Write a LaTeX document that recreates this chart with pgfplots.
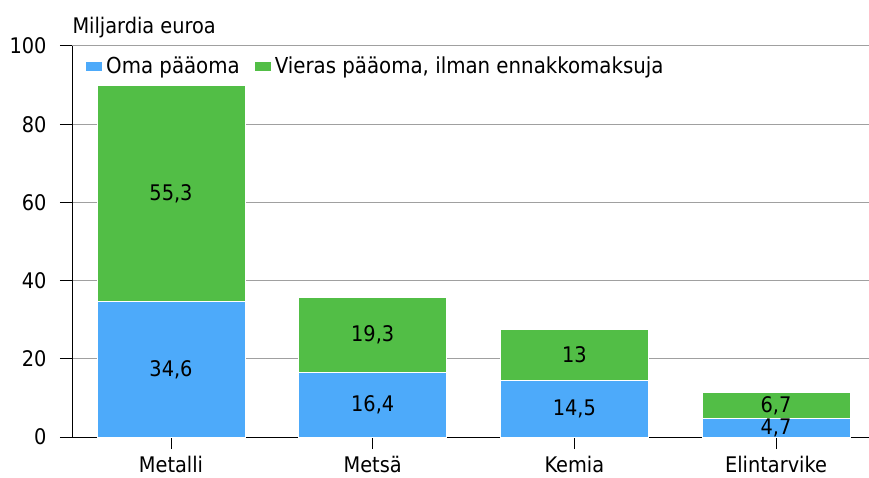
\documentclass[border=0pt]{standalone}
\usepackage{pgfplots}
\pgfplotsset{compat=1.18}
\usepackage{fontspec}
\setmainfont{DejaVu Sans Condensed}
\definecolor{omablue}{RGB}{77,170,250}
\definecolor{vierasgreen}{RGB}{82,190,70}
\definecolor{gridgray}{RGB}{160,160,160}
\newcommand{\chartfont}{\fontsize{21.5}{25}\selectfont}
\begin{document}
\begin{tikzpicture}
\begin{axis}[
  scale only axis,
  width=797pt, height=391pt,
  clip=false,
  ybar stacked, bar width=148pt,
  xmin=-0.491, xmax=3.461,
  ymin=0, ymax=100,
  ytick={0,20,...,100},
  xtick=data,
  xticklabels={Metalli,Metsä,Kemia,Elintarvike},
  axis x line*=bottom, axis y line*=left,
  ymajorgrids, grid style={gridgray, line width=1pt},
  tick align=outside,
  major tick length=12pt,
  tick style={black, line width=1pt},
  axis line style={black, line width=1pt},
  font=\chartfont,
  yticklabel style={xshift=-10pt},
  xticklabel style={yshift=-4pt},
  point meta=rawy,
  nodes near coords,
  nodes near coords style={anchor=center, font=\chartfont},
  legend style={draw=none, fill=none, at={(0,1)}, anchor=north west,
    xshift=11pt, yshift=-7pt, legend columns=2,
    font=\fontsize{22}{25}\selectfont,
    /tikz/every even column/.append style={column sep=11pt},
    nodes={inner xsep=4pt}},
  legend image code/.code={\fill[#1, draw=none] (0pt,-4.5pt) rectangle (16pt,4.5pt);},
  /pgf/number format/use comma,
  /pgf/number format/assume math mode=true,
]
\addplot[fill=omablue, draw=white, line width=1pt] coordinates {(0,34.6) (1,16.4) (2,14.5) (3,4.7)};
\addlegendentry{Oma pääoma}
\addplot[fill=vierasgreen, draw=white, line width=1pt] coordinates {(0,55.3) (1,19.3) (2,13) (3,6.7)};
\addlegendentry{Vieras pääoma, ilman ennakkomaksuja}
\draw[black, line width=1pt] (rel axis cs:0,0) -- (rel axis cs:1,0);
\node[anchor=base west, font=\chartfont] at ([xshift=-3pt, yshift=12pt]rel axis cs:0,1) {Miljardia euroa};
\end{axis}
\pgfresetboundingbox
\path[use as bounding box] (-72pt,-40pt) rectangle (797pt,437pt);
\end{tikzpicture}
\end{document}
